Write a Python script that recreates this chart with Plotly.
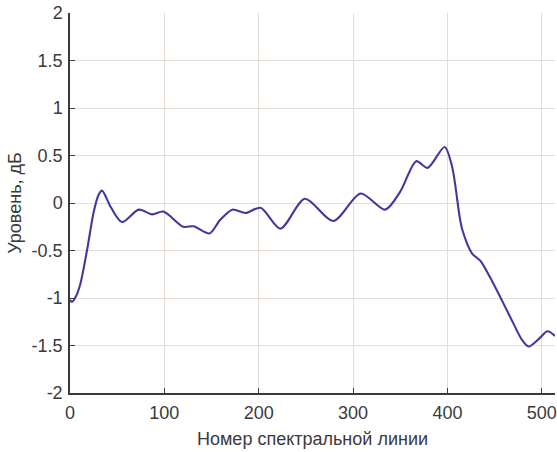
import plotly.graph_objects as go

# Spectral line number and level (dB)
line_no = [0, 2, 6, 11, 18, 25, 30, 34, 43, 55, 73, 87, 99, 120, 131, 148, 159, 172, 186,
           202, 223, 249, 279, 308, 334, 350, 367, 379, 397, 405, 413, 416, 426,
           435, 445, 458, 470, 479, 486, 497, 506, 514]
level_db = [-1.02, -1.04, -0.99, -0.85, -0.5, -0.1, 0.08, 0.13, -0.04, -0.2, -0.07, -0.12, -0.09,
            -0.25, -0.245, -0.32, -0.18, -0.07, -0.105, -0.05, -0.27, 0.045, -0.19,
            0.1, -0.07, 0.12, 0.44, 0.37, 0.59, 0.38, -0.15, -0.29, -0.53, -0.61,
            -0.78, -1.03, -1.27, -1.44, -1.51, -1.43, -1.35, -1.40]

x_ticks = [0, 100, 200, 300, 400, 500]
x_ticklabels = ["0", "100", "200", "300", "400", "500"]
y_ticks = [-2, -1.5, -1, -0.5, 0, 0.5, 1, 1.5, 2]
y_ticklabels = ["-2", "-1.5", "-1", "-0.5", "0", "0.5", "1", "1.5", "2"]

x_title = "Номер спектральной линии"
y_title = "Уровень, дБ"

fig = go.Figure()
fig.add_trace(go.Scatter(
    x=line_no, y=level_db, mode="lines",
    line=dict(color="#3f3a9c", width=2.1, shape="spline", smoothing=0.8),
    showlegend=False, hoverinfo="skip",
))

font_family = "Liberation Sans, Arial, sans-serif"
txt = "#3a3a3a"
fig.update_layout(
    width=557, height=452,
    margin=dict(l=70, r=2, t=13, b=59, autoexpand=False),
    paper_bgcolor="white", plot_bgcolor="white",
    font=dict(family=font_family, size=18, color=txt),
    xaxis=dict(
        range=[0, 514], tickvals=x_ticks, ticktext=x_ticklabels,
        showgrid=True, gridcolor="#e4ddd8", gridwidth=1,
        showline=True, linecolor=txt, linewidth=1.5,
        ticks="inside", ticklen=5, tickcolor=txt,
        zeroline=False, mirror=False, automargin=False,
        ticklabelstandoff=3,
        title=dict(text=x_title, font=dict(size=18, color=txt), standoff=10),
        tickfont=dict(size=18, color=txt),
    ),
    yaxis=dict(
        range=[-2, 2], tickvals=y_ticks, ticktext=y_ticklabels,
        showgrid=True, gridcolor="#e4ddd8", gridwidth=1,
        showline=True, linecolor=txt, linewidth=1.5,
        ticks="inside", ticklen=5, tickcolor=txt,
        zeroline=False, mirror=False, automargin=False,
        ticklabelstandoff=2,
        title=dict(text=y_title, font=dict(size=18, color=txt), standoff=5),
        tickfont=dict(size=18, color=txt),
    ),
)

fig.write_html("out.html", config={"displayModeBar": False},
               post_script="document.body.style.margin='0';")
